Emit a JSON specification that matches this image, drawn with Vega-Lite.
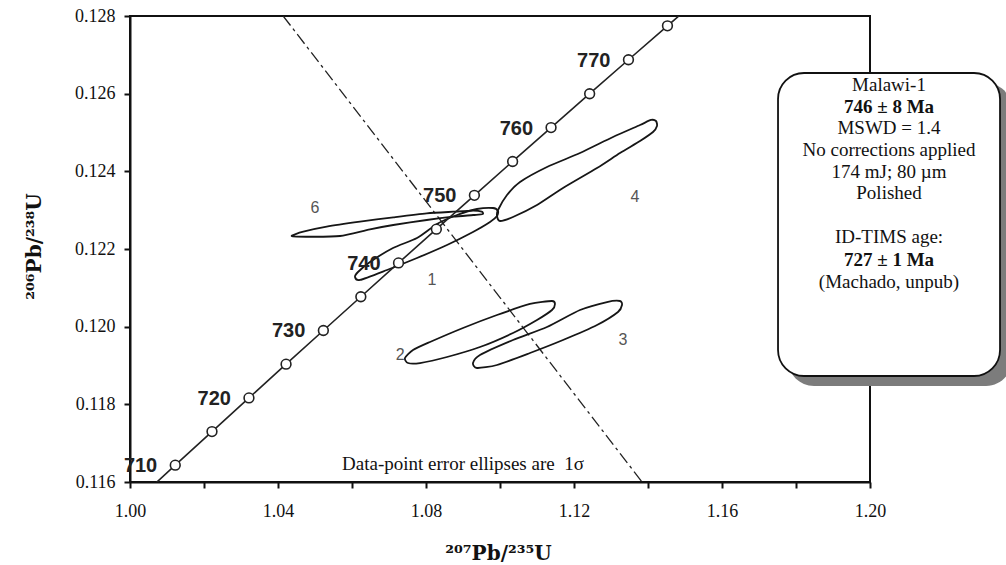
{
  "$schema": "https://vega.github.io/schema/vega-lite/v6.json",
  "width": 740,
  "height": 466,
  "autosize": {"type": "none"},
  "padding": {"left": 130, "top": 16, "right": 136, "bottom": 83},
  "background": "white",
  "config": {
    "font": "Liberation Serif",
    "view": {"stroke": "#111", "strokeWidth": 2},
    "axis": {
      "grid": false,
      "domainColor": "#111",
      "domainWidth": 2,
      "tickColor": "#111",
      "tickWidth": 2,
      "labelFont": "Liberation Serif",
      "labelFontSize": 18,
      "labelColor": "#111",
      "labelFlush": false,
      "labelOverlap": false,
      "titleFont": "DejaVu Serif",
      "titleFontSize": 20,
      "titleFontWeight": "bold",
      "titleColor": "#111"
    }
  },
  "datasets": {
    "concordia": [
      {"age": 705, "r75": 1.00235, "r68": 0.115568},
      {"age": 710, "r75": 1.01223, "r68": 0.116433},
      {"age": 715, "r75": 1.02216, "r68": 0.117299},
      {"age": 720, "r75": 1.03215, "r68": 0.118166},
      {"age": 725, "r75": 1.04218, "r68": 0.119034},
      {"age": 730, "r75": 1.05226, "r68": 0.119902},
      {"age": 735, "r75": 1.06239, "r68": 0.120771},
      {"age": 740, "r75": 1.07257, "r68": 0.121641},
      {"age": 745, "r75": 1.0828, "r68": 0.122511},
      {"age": 750, "r75": 1.09308, "r68": 0.123382},
      {"age": 755, "r75": 1.10341, "r68": 0.124254},
      {"age": 760, "r75": 1.1138, "r68": 0.125126},
      {"age": 765, "r75": 1.12423, "r68": 0.125999},
      {"age": 770, "r75": 1.13472, "r68": 0.126873},
      {"age": 775, "r75": 1.14526, "r68": 0.127747},
      {"age": 780, "r75": 1.15585, "r68": 0.128622}
    ],
    "discordia": [
      {"r75": 1.0414, "r68": 0.128},
      {"r75": 1.1384, "r68": 0.116}
    ],
    "ellipses": [
      {"grain": "6", "i": 0, "r75": 1.0437, "r68": 0.122335},
      {"grain": "6", "i": 1, "r75": 1.04684, "r68": 0.122445},
      {"grain": "6", "i": 2, "r75": 1.05316, "r68": 0.122574},
      {"grain": "6", "i": 3, "r75": 1.06216, "r68": 0.122703},
      {"grain": "6", "i": 4, "r75": 1.07116, "r68": 0.122816},
      {"grain": "6", "i": 5, "r75": 1.08019, "r68": 0.122919},
      {"grain": "6", "i": 6, "r75": 1.08738, "r68": 0.12296},
      {"grain": "6", "i": 7, "r75": 1.09278, "r68": 0.122986},
      {"grain": "6", "i": 8, "r75": 1.09505, "r68": 0.12296},
      {"grain": "6", "i": 9, "r75": 1.09532, "r68": 0.122901},
      {"grain": "6", "i": 10, "r75": 1.09278, "r68": 0.122875},
      {"grain": "6", "i": 11, "r75": 1.08738, "r68": 0.122831},
      {"grain": "6", "i": 12, "r75": 1.08019, "r68": 0.122747},
      {"grain": "6", "i": 13, "r75": 1.07116, "r68": 0.122618},
      {"grain": "6", "i": 14, "r75": 1.06486, "r68": 0.122507},
      {"grain": "6", "i": 15, "r75": 1.05676, "r68": 0.122335},
      {"grain": "6", "i": 16, "r75": 1.04865, "r68": 0.122316},

      {"grain": "1", "i": 0, "r75": 1.06081, "r68": 0.121279},
      {"grain": "1", "i": 1, "r75": 1.06162, "r68": 0.121408},
      {"grain": "1", "i": 2, "r75": 1.06486, "r68": 0.121665},
      {"grain": "1", "i": 3, "r75": 1.07108, "r68": 0.122026},
      {"grain": "1", "i": 4, "r75": 1.07757, "r68": 0.122283},
      {"grain": "1", "i": 5, "r75": 1.08297, "r68": 0.122644},
      {"grain": "1", "i": 6, "r75": 1.08838, "r68": 0.122875},
      {"grain": "1", "i": 7, "r75": 1.09378, "r68": 0.12303},
      {"grain": "1", "i": 8, "r75": 1.09811, "r68": 0.123056},
      {"grain": "1", "i": 9, "r75": 1.09946, "r68": 0.122978},
      {"grain": "1", "i": 10, "r75": 1.09919, "r68": 0.12285},
      {"grain": "1", "i": 11, "r75": 1.0973, "r68": 0.122695},
      {"grain": "1", "i": 12, "r75": 1.0927, "r68": 0.122438},
      {"grain": "1", "i": 13, "r75": 1.08568, "r68": 0.122103},
      {"grain": "1", "i": 14, "r75": 1.07757, "r68": 0.121768},
      {"grain": "1", "i": 15, "r75": 1.06946, "r68": 0.121459},
      {"grain": "1", "i": 16, "r75": 1.06216, "r68": 0.121202},

      {"grain": "4", "i": 0, "r75": 1.09946, "r68": 0.123004},
      {"grain": "4", "i": 1, "r75": 1.10189, "r68": 0.12339},
      {"grain": "4", "i": 2, "r75": 1.10541, "r68": 0.123725},
      {"grain": "4", "i": 3, "r75": 1.1127, "r68": 0.124111},
      {"grain": "4", "i": 4, "r75": 1.12162, "r68": 0.124472},
      {"grain": "4", "i": 5, "r75": 1.13054, "r68": 0.124884},
      {"grain": "4", "i": 6, "r75": 1.13784, "r68": 0.125193},
      {"grain": "4", "i": 7, "r75": 1.14081, "r68": 0.125322},
      {"grain": "4", "i": 8, "r75": 1.14216, "r68": 0.125296},
      {"grain": "4", "i": 9, "r75": 1.14243, "r68": 0.125167},
      {"grain": "4", "i": 10, "r75": 1.14135, "r68": 0.125013},
      {"grain": "4", "i": 11, "r75": 1.13784, "r68": 0.124781},
      {"grain": "4", "i": 12, "r75": 1.13243, "r68": 0.124472},
      {"grain": "4", "i": 13, "r75": 1.12622, "r68": 0.124086},
      {"grain": "4", "i": 14, "r75": 1.11703, "r68": 0.123571},
      {"grain": "4", "i": 15, "r75": 1.11, "r68": 0.123133},
      {"grain": "4", "i": 16, "r75": 1.10351, "r68": 0.122824},
      {"grain": "4", "i": 17, "r75": 1.1, "r68": 0.122721},
      {"grain": "4", "i": 18, "r75": 1.09919, "r68": 0.12285},

      {"grain": "2", "i": 0, "r75": 1.07432, "r68": 0.119193},
      {"grain": "2", "i": 1, "r75": 1.07649, "r68": 0.119399},
      {"grain": "2", "i": 2, "r75": 1.08108, "r68": 0.119605},
      {"grain": "2", "i": 3, "r75": 1.09, "r68": 0.119966},
      {"grain": "2", "i": 4, "r75": 1.09919, "r68": 0.1203},
      {"grain": "2", "i": 5, "r75": 1.10811, "r68": 0.120584},
      {"grain": "2", "i": 6, "r75": 1.11405, "r68": 0.120661},
      {"grain": "2", "i": 7, "r75": 1.11486, "r68": 0.120584},
      {"grain": "2", "i": 8, "r75": 1.11405, "r68": 0.120429},
      {"grain": "2", "i": 9, "r75": 1.11, "r68": 0.120172},
      {"grain": "2", "i": 10, "r75": 1.10351, "r68": 0.119837},
      {"grain": "2", "i": 11, "r75": 1.09459, "r68": 0.119476},
      {"grain": "2", "i": 12, "r75": 1.08568, "r68": 0.119219},
      {"grain": "2", "i": 13, "r75": 1.07838, "r68": 0.119064},
      {"grain": "2", "i": 14, "r75": 1.07514, "r68": 0.119064},

      {"grain": "3", "i": 0, "r75": 1.0927, "r68": 0.119064},
      {"grain": "3", "i": 1, "r75": 1.09459, "r68": 0.11927},
      {"grain": "3", "i": 2, "r75": 1.10351, "r68": 0.119657},
      {"grain": "3", "i": 3, "r75": 1.1127, "r68": 0.119991},
      {"grain": "3", "i": 4, "r75": 1.12162, "r68": 0.120429},
      {"grain": "3", "i": 5, "r75": 1.12892, "r68": 0.120635},
      {"grain": "3", "i": 6, "r75": 1.13243, "r68": 0.120661},
      {"grain": "3", "i": 7, "r75": 1.13297, "r68": 0.120558},
      {"grain": "3", "i": 8, "r75": 1.13189, "r68": 0.120378},
      {"grain": "3", "i": 9, "r75": 1.12622, "r68": 0.120043},
      {"grain": "3", "i": 10, "r75": 1.11703, "r68": 0.119657},
      {"grain": "3", "i": 11, "r75": 1.10811, "r68": 0.119322},
      {"grain": "3", "i": 12, "r75": 1.09919, "r68": 0.119013},
      {"grain": "3", "i": 13, "r75": 1.09378, "r68": 0.118936}
    ],
    "grainLabels": [
      {"grain": "6", "r75": 1.05, "r68": 0.12306},
      {"grain": "1", "r75": 1.0816, "r68": 0.1212},
      {"grain": "4", "r75": 1.1365, "r68": 0.12334},
      {"grain": "2", "r75": 1.073, "r68": 0.11927},
      {"grain": "3", "r75": 1.1332, "r68": 0.11966}
    ],
    "noteLines": [
      {"text": "Malawi-1", "r68": 0.126223},
      {"text": "MSWD = 1.4", "r68": 0.125116},
      {"text": "No corrections applied", "r68": 0.124549},
      {"text": "174 mJ;  80 µm", "r68": 0.123983},
      {"text": "Polished", "r68": 0.123442},
      {"text": "ID-TIMS age:", "r68": 0.122309},
      {"text": "(Machado, unpub)", "r68": 0.12115}
    ],
    "noteAges": [
      {"text": "746 ± 8  Ma", "r68": 0.125656},
      {"text": "727 ± 1 Ma", "r68": 0.121717}
    ]
  },
  "layer": [
    {
      "encoding": {
        "x": {
          "field": "r75",
          "type": "quantitative",
          "scale": {"domain": [1.0, 1.2], "nice": false, "zero": false},
          "axis": {
            "title": "²⁰⁷Pb/²³⁵U",
            "values": [1.0, 1.02, 1.04, 1.06, 1.08, 1.1, 1.12, 1.14, 1.16, 1.18, 1.2],
            "labelExpr": "round(datum.value * 100) % 4 === 0 ? format(datum.value, '.2f') : ''",
            "tickSize": 6,
            "labelPadding": 14,
            "titleX": 368,
            "titleY": 77,
            "titleAlign": "center",
            "titleBaseline": "alphabetic",
            "encode": {
              "ticks": {
                "y": {"value": -5},
                "y2": {"condition": {"test": "round(datum.value * 100) % 4 === 0", "value": 6}, "value": 0}
              }
            }
          }
        },
        "y": {
          "field": "r68",
          "type": "quantitative",
          "scale": {"domain": [0.116, 0.128], "nice": false, "zero": false},
          "axis": {
            "title": "²⁰⁶Pb/²³⁸U",
            "values": [0.116, 0.117, 0.118, 0.119, 0.12, 0.121, 0.122, 0.123, 0.124, 0.125, 0.126, 0.127, 0.128],
            "labelExpr": "round(datum.value * 1000) % 2 === 0 ? format(datum.value, '.3f') : ''",
            "tickSize": 6,
            "labelPadding": 9,
            "titleX": -90,
            "titleY": 230,
            "titleAngle": 270,
            "titleAlign": "center",
            "titleBaseline": "alphabetic",
            "encode": {
              "ticks": {
                "x": {"value": 5},
                "x2": {"condition": {"test": "round(datum.value * 1000) % 2 === 0", "value": -6}, "value": 0}
              }
            }
          }
        }
      },
      "layer": [
        {
          "data": {"name": "discordia"},
          "mark": {"type": "line", "clip": true, "color": "#222", "strokeWidth": 1.3, "strokeDash": [12, 4, 3, 4]},
          "encoding": {}
        },
        {
          "data": {"name": "ellipses"},
          "mark": {"type": "line", "interpolate": "cardinal-closed", "tension": 0.3, "color": "#161616", "strokeWidth": 1.8},
          "encoding": {
            "detail": {"field": "grain"},
            "order": {"field": "i", "type": "quantitative"}
          }
        },
        {
          "data": {"name": "concordia"},
          "mark": {"type": "line", "clip": true, "color": "#222", "strokeWidth": 1.6},
          "encoding": {"order": {"field": "age", "type": "quantitative"}}
        },
        {
          "data": {"name": "concordia"},
          "transform": [{"filter": "datum.age >= 710 && datum.age <= 775"}],
          "mark": {"type": "point", "shape": "circle", "filled": true, "fill": "white", "stroke": "#222", "strokeWidth": 1.6, "size": 95, "opacity": 1}
        },
        {
          "data": {"name": "concordia"},
          "transform": [{"filter": "datum.age % 10 === 0 && datum.age >= 710 && datum.age <= 770"}],
          "mark": {"type": "text", "align": "right", "baseline": "middle", "dx": -18, "dy": 1, "font": "Liberation Sans", "fontSize": 20, "fontWeight": "bold", "color": "#222"},
          "encoding": {"text": {"field": "age", "type": "nominal"}}
        },
        {
          "data": {"name": "grainLabels"},
          "mark": {"type": "text", "align": "center", "baseline": "middle", "font": "Liberation Sans", "fontSize": 16, "color": "#555"},
          "encoding": {"text": {"field": "grain", "type": "nominal"}}
        }
      ]
    },
    {
      "data": {"values": [{}]},
      "mark": {"type": "text", "align": "center", "baseline": "alphabetic", "font": "Liberation Serif", "fontSize": 19, "color": "#111", "text": "Data-point error ellipses are\u00a0 1σ"},
      "encoding": {
        "x": {"datum": 1.09, "type": "quantitative"},
        "y": {"datum": 0.116309, "type": "quantitative"}
      }
    },
    {
      "data": {"values": [{}]},
      "mark": {"type": "rect", "cornerRadius": 26, "fill": "#7c7c7c"},
      "encoding": {
        "x": {"datum": 1.17784, "type": "quantitative"},
        "x2": {"datum": 1.23838},
        "y": {"datum": 0.126274, "type": "quantitative"},
        "y2": {"datum": 0.118472}
      }
    },
    {
      "data": {"values": [{}]},
      "mark": {"type": "rect", "cornerRadius": 26, "fill": "white", "stroke": "#111", "strokeWidth": 1.8},
      "encoding": {
        "x": {"datum": 1.17514, "type": "quantitative"},
        "x2": {"datum": 1.23514},
        "y": {"datum": 0.126532, "type": "quantitative"},
        "y2": {"datum": 0.11873}
      }
    },
    {
      "data": {"name": "noteLines"},
      "mark": {"type": "text", "align": "center", "baseline": "middle", "font": "Liberation Serif", "fontSize": 19, "color": "#111"},
      "encoding": {
        "x": {"datum": 1.20514, "type": "quantitative"},
        "y": {"field": "r68", "type": "quantitative"},
        "text": {"field": "text", "type": "nominal"}
      }
    },
    {
      "data": {"name": "noteAges"},
      "mark": {"type": "text", "align": "center", "baseline": "middle", "font": "Liberation Serif", "fontSize": 19, "fontWeight": "bold", "color": "#111"},
      "encoding": {
        "x": {"datum": 1.20514, "type": "quantitative"},
        "y": {"field": "r68", "type": "quantitative"},
        "text": {"field": "text", "type": "nominal"}
      }
    }
  ]
}
